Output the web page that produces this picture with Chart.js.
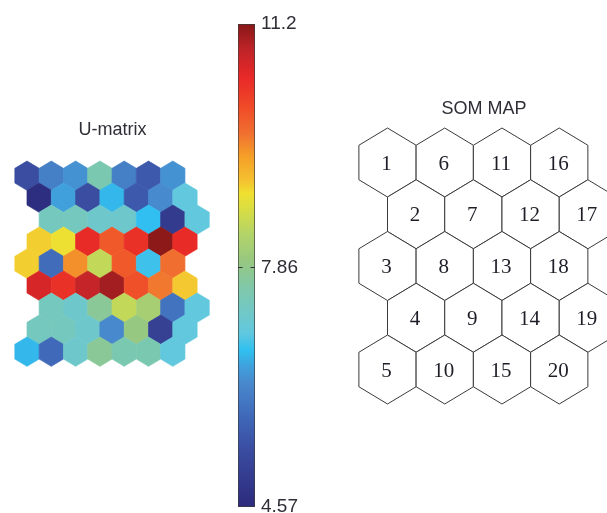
<!DOCTYPE html>
<html><head><meta charset="utf-8">
<script src="https://cdn.jsdelivr.net/npm/chart.js@4"></script>
<style>
html,body{margin:0;padding:0;width:607px;height:513px;overflow:hidden;background:#fff;}
.box{position:absolute;}
</style></head><body>
<div class="box" style="left:0;top:119px;width:225px;height:261px"><canvas id="umat"></canvas></div>
<div class="box" style="left:228px;top:0;width:80px;height:513px"><canvas id="cbar"></canvas></div>
<div class="box" style="left:340px;top:98px;width:288px;height:320px"><canvas id="som"></canvas></div>
<script>
// ---------- data ----------
const uMatrixTitle = 'U-matrix';
const somTitle = 'SOM MAP';
const uRow0 = [5.37, 6.13, 6.36, 7.49, 6.13, 5.56, 6.36];
const uRow1 = [4.66, 6.49, 5.37, 6.66, 5.56, 6.29, 6.99];
const uRow2 = [7.35, 7.35, 7.19, 7.19, 6.72, 4.97, 6.99];
const uRow3 = [8.98, 8.85, 10.44, 9.91, 10.37, 11.17, 10.44];
const uRow4 = [8.98, 5.86, 9.48, 8.45, 9.91, 6.79, 9.70];
const uRow5 = [10.64, 10.37, 10.80, 11.03, 10.01, 9.64, 9.01];
const uRow6 = [7.35, 7.19, 7.75, 8.45, 8.15, 5.96, 6.99];
const uRow7 = [7.35, 7.35, 7.19, 6.27, 7.95, 5.10, 6.99];
const uRow8 = [6.66, 5.83, 7.19, 7.75, 7.49, 7.49, 6.99];
const uMatrixRows = [uRow0, uRow1, uRow2, uRow3, uRow4, uRow5, uRow6, uRow7, uRow8];
const colorMin = 4.57;
const colorMax = 11.2;
const colorbarTicks = [4.57, 7.86, 11.2];
const colorbarTickLabels = ['4.57', '7.86', '11.2'];
const somLabels = [
  [1, 6, 11, 16],
  [2, 7, 12, 17],
  [3, 8, 13, 18],
  [4, 9, 14, 19],
  [5, 10, 15, 20]
];

// ---------- colormap ----------
const cmapStops = [
  [0.0, '#2c2a7c'], [0.014, '#2e2e80'], [0.117, '#3a4ca0'], [0.186, '#3f68b8'],
  [0.256, '#4888cc'], [0.290, '#40a0dc'], [0.325, '#30c0f0'], [0.359, '#60c8e0'],
  [0.401, '#70c8c8'], [0.456, '#80c8a8'], [0.511, '#98c880'], [0.566, '#b4d468'],
  [0.608, '#d2dc48'], [0.649, '#f0e030'], [0.677, '#f5c030'], [0.725, '#f5a028'],
  [0.773, '#f07030'], [0.829, '#f04a28'], [0.891, '#e82828'], [0.946, '#c02428'],
  [1.0, '#881818']
];
function hex2rgb(h){return [parseInt(h.slice(1,3),16),parseInt(h.slice(3,5),16),parseInt(h.slice(5,7),16)];}
function colorFor(v){
  let f = (v - colorMin) / (colorMax - colorMin);
  f = Math.max(0, Math.min(1, f));
  for (let i = 1; i < cmapStops.length; i++) {
    if (f <= cmapStops[i][0]) {
      const [f0, c0] = cmapStops[i-1], [f1, c1] = cmapStops[i];
      const t = (f - f0) / (f1 - f0 || 1);
      const a = hex2rgb(c0), b = hex2rgb(c1);
      return 'rgb(' + a.map((x, k) => Math.round(x + (b[k] - x) * t)).join(',') + ')';
    }
  }
  return cmapStops[cmapStops.length-1][1];
}

// ---------- hexagon plugin (uses the chart's own scales) ----------
const hexPlugin = {
  id: 'hexCells',
  afterDatasetsDraw(chart, args, opts) {
    const ctx = chart.ctx;
    const xs = chart.scales.x, ys = chart.scales.y;
    chart.data.datasets.forEach((ds, di) => {
      const meta = chart.getDatasetMeta(di);
      meta.data.forEach((pt, i) => {
        const raw = ds.data[i];
        const cx = pt.x, cy = pt.y;
        const hw = Math.abs(xs.getPixelForValue(raw.x + 0.5) - xs.getPixelForValue(raw.x));
        const rv = Math.abs(ys.getPixelForValue(raw.y + 2/3) - ys.getPixelForValue(raw.y));
        ctx.save();
        ctx.beginPath();
        ctx.moveTo(cx, cy - rv);
        ctx.lineTo(cx + hw, cy - rv/2);
        ctx.lineTo(cx + hw, cy + rv/2);
        ctx.lineTo(cx, cy + rv);
        ctx.lineTo(cx - hw, cy + rv/2);
        ctx.lineTo(cx - hw, cy - rv/2);
        ctx.closePath();
        if (opts.mode === 'color') {
          const col = colorFor(raw.v);
          ctx.fillStyle = col; ctx.fill();
          ctx.strokeStyle = col; ctx.lineWidth = 0.7; ctx.stroke();
        } else {
          ctx.fillStyle = '#ffffff'; ctx.fill();
          ctx.strokeStyle = '#3a3a3a'; ctx.lineWidth = 1; ctx.stroke();
          ctx.fillStyle = '#1e1e28';
          ctx.font = '21px "Liberation Serif", "Times New Roman", serif';
          ctx.textAlign = 'center';
          ctx.textBaseline = 'alphabetic';
          ctx.fillText(String(raw.label), cx - 1, cy + 7.2);
        }
        ctx.restore();
      });
    });
  }
};

// inward tick marks on both edges of the colorbar (MATLAB style)
const inwardTicks = {
  id: 'inwardTicks',
  afterDatasetsDraw(chart) {
    const ys = chart.scales.y, a = chart.chartArea, ctx = chart.ctx;
    ctx.save();
    ctx.strokeStyle = '#333333';
    ctx.lineWidth = 1;
    ys.ticks.forEach(t => {
      if (t.value <= colorMin || t.value >= colorMax) return;
      const y = Math.round(ys.getPixelForValue(t.value)) + 0.5;
      ctx.beginPath();
      ctx.moveTo(a.left, y); ctx.lineTo(a.left + 4.5, y);
      ctx.moveTo(a.right - 4.5, y); ctx.lineTo(a.right, y);
      ctx.stroke();
    });
    ctx.restore();
  }
};

const sansFont = '"Liberation Sans", Arial, sans-serif';
const textColor = '#2e2e36';

// ---------- U-matrix ----------
const uPoints = [];
uMatrixRows.forEach((row, r) => {
  const shift = Math.abs(((r + 2) % 4) - 2) / 2;
  row.forEach((v, c) => uPoints.push({ x: c + shift, y: r, v: v }));
});
new Chart(document.getElementById('umat'), {
  type: 'scatter',
  data: { datasets: [{ data: uPoints, pointRadius: 0, pointHoverRadius: 0 }] },
  options: {
    responsive: true, maintainAspectRatio: false, animation: false,
    layout: { padding: 0 },
    events: [],
    plugins: {
      legend: { display: false }, tooltip: { enabled: false },
      title: { display: true, text: uMatrixTitle, color: textColor, padding: 0,
               font: { family: sansFont, size: 18, weight: 'normal' } },
      hexCells: { mode: 'color' }
    },
    scales: {
      x: { display: false, type: 'linear', min: -1.111, max: 8.148 },
      y: { display: false, type: 'linear', reverse: true, min: -1.595, max: 9.287 }
    }
  },
  plugins: [hexPlugin]
});

// ---------- colorbar ----------
new Chart(document.getElementById('cbar'), {
  type: 'bar',
  data: {
    labels: [''],
    datasets: [{
      data: [[colorMin, colorMax]],
      backgroundColor: (c) => {
        const chart = c.chart; const a = chart.chartArea;
        if (!a) return '#888';
        const ys = chart.scales.y;
        const g = chart.ctx.createLinearGradient(0, ys.getPixelForValue(colorMin), 0, ys.getPixelForValue(colorMax));
        cmapStops.forEach(s => g.addColorStop(s[0], s[1]));
        return g;
      },
      borderColor: '#3c3c3c', borderWidth: 1, borderSkipped: false,
      barPercentage: 1, categoryPercentage: 1
    }]
  },
  options: {
    responsive: true, maintainAspectRatio: false, animation: false, events: [],
    layout: { padding: { left: 10, top: 24, bottom: 6, right: 0 } },
    plugins: { legend: { display: false }, tooltip: { enabled: false } },
    scales: {
      x: { display: false },
      y: {
        position: 'right', min: colorMin, max: colorMax,
        afterBuildTicks: (s) => { s.ticks = colorbarTicks.map(v => ({ value: v })); },
        afterFit: (s) => { s.width = 53; s.paddingTop = 0; s.paddingBottom = 0; },
        ticks: {
          autoSkip: false, padding: 6, color: textColor,
          font: { family: sansFont, size: 19 },
          callback: (v, i) => colorbarTickLabels[i]
        },
        grid: { display: false, drawTicks: false },
        border: { display: false }
      }
    }
  },
  plugins: [inwardTicks]
});

// ---------- SOM map ----------
const somPoints = [];
somLabels.forEach((row, r) => {
  row.forEach((lab, c) => somPoints.push({ x: c + (r % 2) * 0.5, y: r, label: lab }));
});
new Chart(document.getElementById('som'), {
  type: 'scatter',
  data: { datasets: [{ data: somPoints, pointRadius: 0, pointHoverRadius: 0 }] },
  options: {
    responsive: true, maintainAspectRatio: false, animation: false, events: [],
    layout: { padding: 0 },
    plugins: {
      legend: { display: false }, tooltip: { enabled: false },
      title: { display: true, text: somTitle, color: textColor, padding: 0,
               font: { family: sansFont, size: 18, weight: 'normal' } },
      hexCells: { mode: 'outline' }
    },
    scales: {
      x: { display: false, type: 'linear', min: -0.8297, max: 4.2009 },
      y: { display: false, type: 'linear', reverse: true, min: -0.829, max: 4.937 }
    }
  },
  plugins: [hexPlugin]
});
</script>
</body></html>
